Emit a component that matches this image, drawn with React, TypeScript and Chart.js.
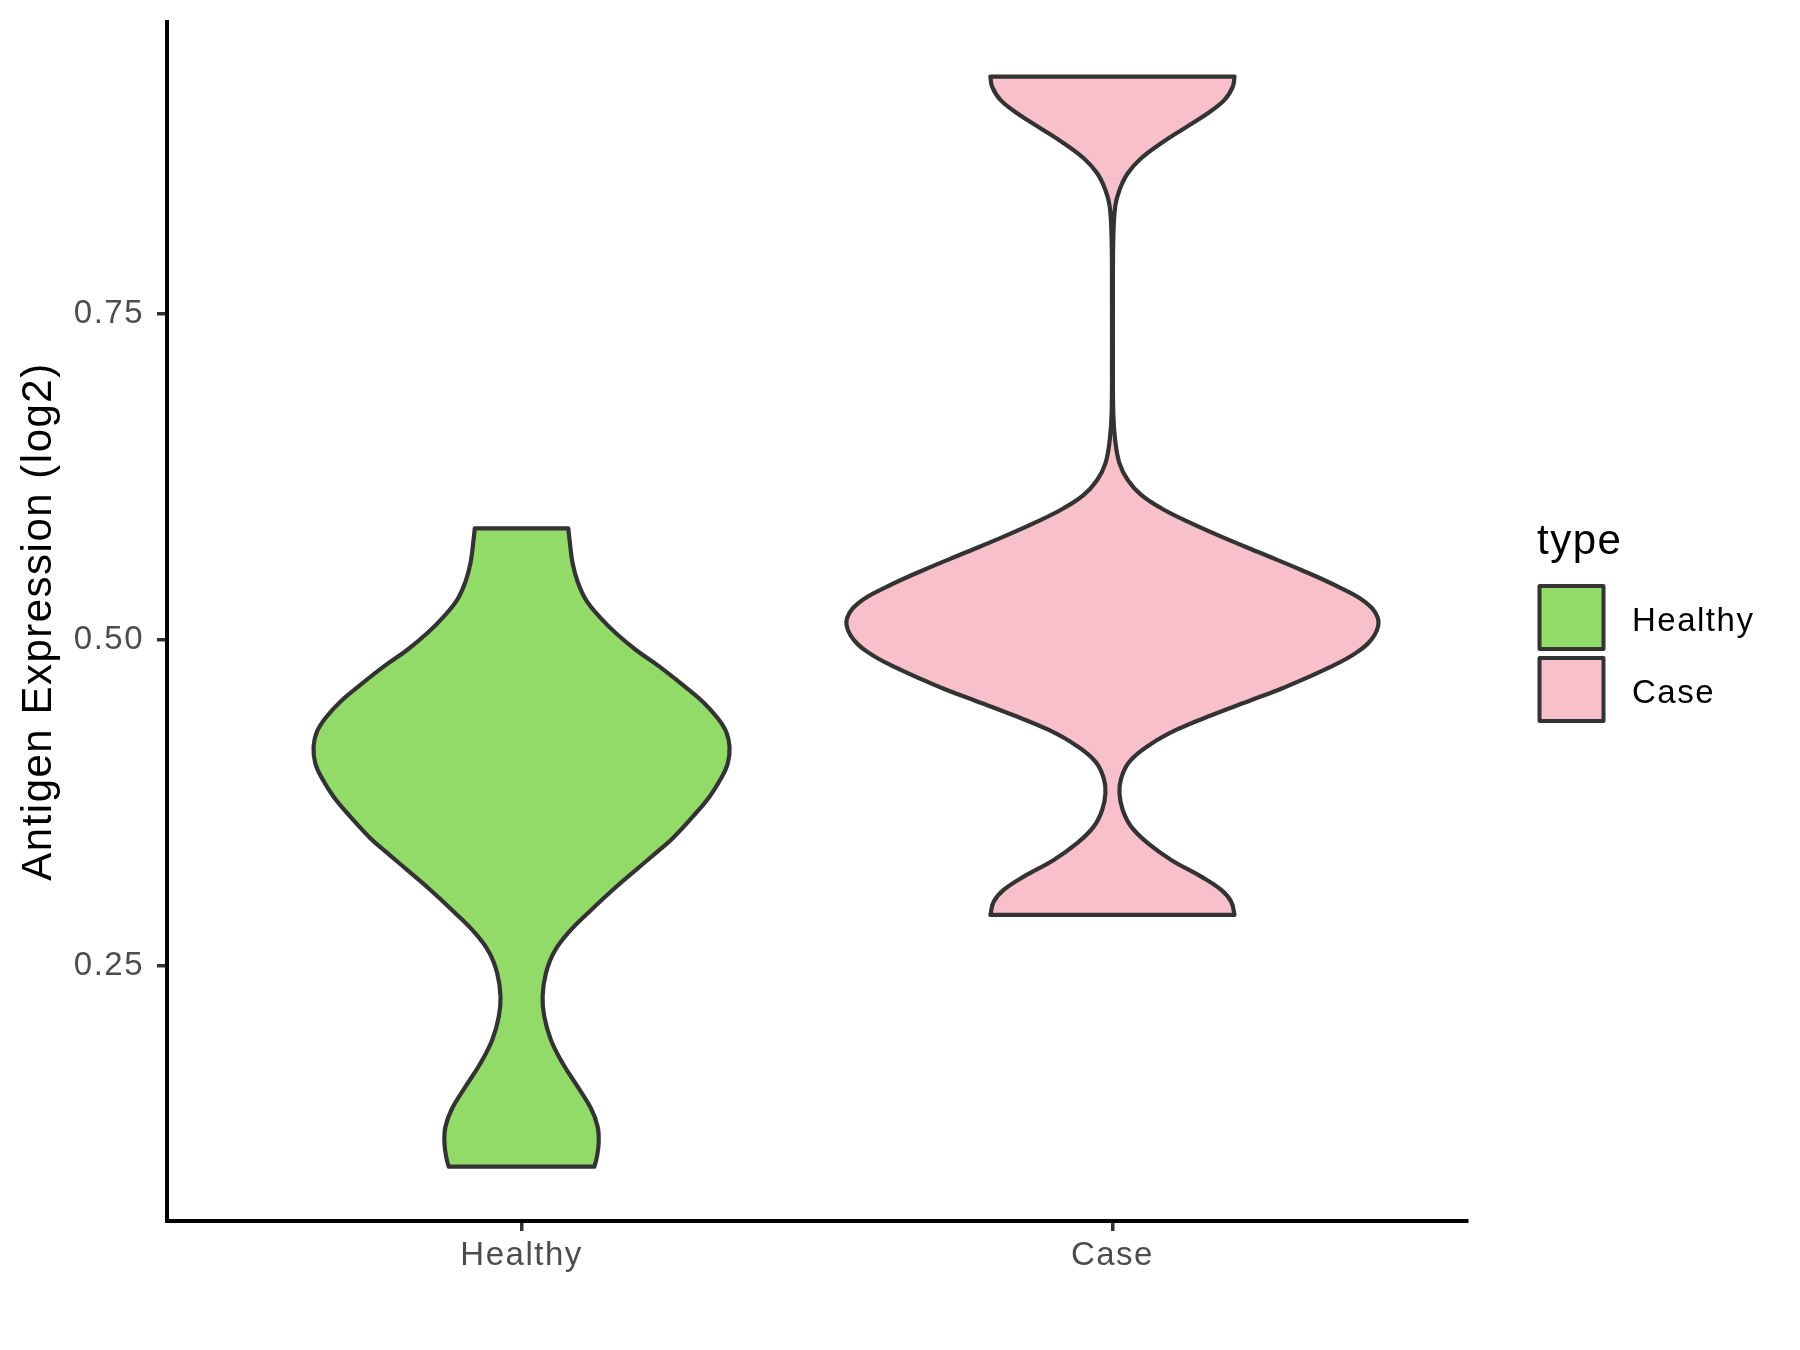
import React, { useEffect, useRef } from "react";
import { Chart, registerables } from "chart.js";

Chart.register(...registerables);

// ---- data ----
const categories = ["Healthy", "Case"];
const categoryPositions = [1, 2];
const legendTitle = "type";
const yAxisTitle = "Antigen Expression (log2)";
const yTickValues = [0.25, 0.5, 0.75];
const yTickLabels = ["0.25", "0.50", "0.75"];

// violin outlines: expression level (top -> bottom) and half width (x units)
const healthyY = [
  0.5857, 0.5742, 0.5589, 0.5447, 0.5307, 0.5179, 0.5051, 0.4923, 0.4795, 0.4655,
  0.4526, 0.4399, 0.4296, 0.4181, 0.4054, 0.3938, 0.3797, 0.3644, 0.3478, 0.3388,
  0.3235, 0.3081, 0.2914, 0.2761, 0.2607, 0.2442, 0.2262, 0.2108, 0.193, 0.1751,
  0.1571, 0.1405, 0.1264, 0.1137, 0.1022, 0.0957,
];
const healthyHalfWidth = [
  0.0791, 0.0819, 0.0864, 0.0949, 0.109, 0.1317, 0.1598, 0.1937, 0.2334, 0.2728,
  0.3067, 0.3321, 0.3462, 0.352, 0.3491, 0.3377, 0.3181, 0.2898, 0.2559, 0.2334,
  0.1937, 0.1542, 0.1147, 0.0808, 0.0554, 0.0412, 0.0356, 0.0385, 0.0497, 0.0695,
  0.0949, 0.1174, 0.1288, 0.1305, 0.1271, 0.1232,
];
const caseY = [
  0.9324, 0.9247, 0.9145, 0.9043, 0.8928, 0.8813, 0.8697, 0.8582, 0.8454, 0.8326,
  0.807, 0.761, 0.7149, 0.674, 0.6535, 0.6356, 0.6228, 0.6113, 0.6011, 0.5908,
  0.5793, 0.5665, 0.5537, 0.5409, 0.5294, 0.5167, 0.5038, 0.491, 0.4783, 0.4629,
  0.4539, 0.4424, 0.4309, 0.4194, 0.4066, 0.3938, 0.3823, 0.3695, 0.3567, 0.344,
  0.3311, 0.3183, 0.3081, 0.2991, 0.2889,
];
const caseHalfWidth = [
  0.2066, 0.2037, 0.1896, 0.1614, 0.1219, 0.0825, 0.0486, 0.0259, 0.0119, 0.0046,
  0.0014, 0.0008, 0.0008, 0.0014, 0.0046, 0.0119, 0.0259, 0.0486, 0.0825, 0.1275,
  0.1841, 0.2518, 0.3195, 0.3815, 0.4267, 0.4492, 0.4436, 0.4153, 0.3645, 0.2875,
  0.2353, 0.1686, 0.1077, 0.0628, 0.0288, 0.0147, 0.0119, 0.0174, 0.0317, 0.0598,
  0.0994, 0.1502, 0.1841, 0.201, 0.2066,
];

const violinYs = [healthyY, caseY];
const violinHalfWidths = [healthyHalfWidth, caseHalfWidth];

// ---- styles ----
const fillColors = ["#93DB69", "#F7C0CB"];
const outlineColor = "#333333";
const FONT = '"Liberation Sans", Arial, Helvetica, sans-serif';
const LETTER_SPACING = "1.5px";
const TICK_SIZE = 33;
const TITLE_SIZE = 42;

function violinPoints(center: number, ys: number[], hws: number[]) {
  const left = ys.map((y, i) => ({ x: center - hws[i], y }));
  const right = ys.map((y, i) => ({ x: center + hws[i], y })).reverse();
  const n = left.length;
  // corners repeated so the flat top/bottom edges stay straight
  return [left[0], ...left, left[n - 1], right[0], ...right, right[n - 1], left[0]];
}

const spacingPlugin = {
  id: "letterSpacing",
  beforeUpdate(chart: any) {
    (chart.ctx as any).letterSpacing = LETTER_SPACING;
  },
  beforeDraw(chart: any) {
    (chart.ctx as any).letterSpacing = LETTER_SPACING;
  },
};

const legendPlugin = {
  id: "ggLegend",
  afterDraw(chart: any) {
    const ctx = chart.ctx;
    ctx.save();
    (ctx as any).letterSpacing = LETTER_SPACING;
    ctx.textAlign = "left";
    ctx.textBaseline = "alphabetic";
    ctx.fillStyle = "#000000";
    ctx.font = `${TITLE_SIZE}px ${FONT}`;
    ctx.fillText(legendTitle, 1537, 554);
    categories.forEach((name, k) => {
      const top = 586 + k * 72;
      ctx.fillStyle = fillColors[k];
      ctx.fillRect(1539.5, top, 64, 63);
      ctx.lineWidth = 4;
      ctx.lineJoin = "round";
      ctx.strokeStyle = outlineColor;
      ctx.strokeRect(1539.5, top, 64, 63);
      ctx.fillStyle = "#000000";
      ctx.font = `${TICK_SIZE}px ${FONT}`;
      ctx.fillText(name, 1632, top + 45);
    });
    ctx.restore();
  },
};

export default function App() {
  const canvasRef = useRef<HTMLCanvasElement | null>(null);

  useEffect(() => {
    const canvas = canvasRef.current;
    if (!canvas) return;
    const chart = new Chart(canvas, {
      type: "line",
      data: {
        datasets: categories.map((name, k) => ({
          label: name,
          data: violinPoints(categoryPositions[k], violinYs[k], violinHalfWidths[k]),
          backgroundColor: fillColors[k],
          borderColor: outlineColor,
          borderWidth: 4.2,
          borderJoinStyle: "round",
          borderCapStyle: "round",
          fill: "shape",
          tension: 0.4,
          pointRadius: 0,
          pointHoverRadius: 0,
        })),
      },
      options: {
        animation: false,
        responsive: false,
        devicePixelRatio: 1,
        events: [],
        layout: { padding: { left: 0, right: 1800 - 1467, top: 22, bottom: 0 } },
        plugins: {
          legend: { display: false },
          tooltip: { enabled: false },
        },
        scales: {
          x: {
            type: "linear",
            min: 0.4,
            max: 2.6,
            afterBuildTicks: (s: any) => {
              s.ticks = categoryPositions.map((v) => ({ value: v }));
            },
            afterFit: (s: any) => {
              s.height = 1350 - 1221;
              s.paddingLeft = 0;
              s.paddingRight = 0;
            },
            ticks: {
              callback: (_v: any, i: number) => categories[i],
              color: "#4D4D4D",
              font: { family: FONT, size: TICK_SIZE },
              padding: 5.5,
              autoSkip: false,
              maxRotation: 0,
            },
            grid: {
              display: true,
              drawOnChartArea: false,
              drawTicks: true,
              tickLength: 10,
              color: "#333333",
              lineWidth: 3.5,
            },
            border: { display: true, color: "#000000", width: 4 },
          },
          y: {
            type: "linear",
            min: 0.054,
            max: 0.9743,
            afterBuildTicks: (s: any) => {
              s.ticks = yTickValues.map((v) => ({ value: v }));
            },
            afterFit: (s: any) => {
              s.width = 167;
              s.paddingTop = 0;
              s.paddingBottom = 0;
            },
            ticks: {
              callback: (_v: any, i: number) => yTickLabels[i],
              color: "#4D4D4D",
              font: { family: FONT, size: TICK_SIZE },
              padding: 13,
              autoSkip: false,
            },
            grid: {
              display: true,
              drawOnChartArea: false,
              drawTicks: true,
              tickLength: 10,
              color: "#333333",
              lineWidth: 3.5,
            },
            border: { display: true, color: "#000000", width: 4 },
            title: {
              display: true,
              text: yAxisTitle,
              color: "#000000",
              font: { family: FONT, size: TITLE_SIZE },
              padding: { top: 14, bottom: 0 },
            },
          },
        },
      },
      plugins: [spacingPlugin, legendPlugin],
    } as any);
    return () => chart.destroy();
  }, []);

  return (
    <div style={{ position: "absolute", left: 0, top: 0, width: 1800, height: 1350, background: "#ffffff" }}>
      <canvas ref={canvasRef} width={1800} height={1350} style={{ width: 1800, height: 1350, display: "block" }} />
    </div>
  );
}
